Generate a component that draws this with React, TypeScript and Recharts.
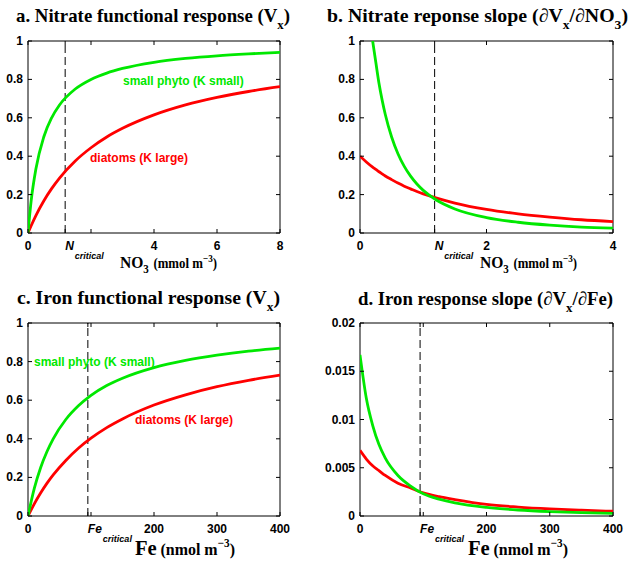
import { LineChart, Line, XAxis, YAxis, ReferenceLine, ReferenceArea } from 'recharts';

const GREEN = '#00e800';
const RED = '#ff0000';
const SANS = '"Liberation Sans", Arial, Helvetica, sans-serif';
const SERIF = '"Liberation Serif", "Times New Roman", serif';

// critical concentrations (where the two slopes cross)
const N_CRIT = 1.18;
const FE_CRIT = 95;

// a. nitrate functional response
const no3X = [0, 0.1, 0.25, 0.5, 0.75, 1, 1.5, 2, 2.5, 3, 4, 5, 6, 7, 8];
const no3Small = [0, 0.167, 0.333, 0.5, 0.6, 0.667, 0.75, 0.8, 0.833, 0.857, 0.889, 0.909, 0.923, 0.933, 0.941];
const no3Diatom = [0, 0.038, 0.091, 0.167, 0.231, 0.286, 0.375, 0.444, 0.5, 0.545, 0.615, 0.667, 0.706, 0.737, 0.762];

// b. nitrate response slope
const no3SlopeX = [0, 0.1, 0.2, 0.25, 0.3, 0.35, 0.4, 0.5, 0.6, 0.7, 0.8, 0.9, 1, 1.2, 1.5, 2, 2.5, 3, 3.5, 4];
const no3SlopeSmall = [null, null, 1.0, 0.889, 0.78, 0.692, 0.617, 0.5, 0.413, 0.347, 0.296, 0.255, 0.222, 0.173, 0.125, 0.08, 0.056, 0.041, 0.031, 0.025];
const no3SlopeDiatom = [0.4, 0.37, 0.343, 0.331, 0.319, 0.308, 0.297, 0.278, 0.26, 0.244, 0.23, 0.216, 0.204, 0.183, 0.156, 0.123, 0.1, 0.083, 0.069, 0.059];

// c. iron functional response
const feX = [0, 10, 20, 30, 40, 60, 80, 100, 125, 150, 200, 250, 300, 350, 400];
const feSmall = [0, 0.143, 0.25, 0.333, 0.4, 0.5, 0.571, 0.625, 0.676, 0.714, 0.769, 0.806, 0.833, 0.854, 0.87];
const feDiatom = [0, 0.063, 0.119, 0.169, 0.213, 0.288, 0.351, 0.403, 0.458, 0.503, 0.575, 0.628, 0.67, 0.703, 0.73];

// d. iron response slope
const feSlopeSmall = [0.0167, 0.0122, 0.0094, 0.0074, 0.006, 0.0042, 0.0031, 0.0023, 0.00175, 0.00136, 0.00089, 0.00062, 0.00046, 0.00036, 0.00028];
const feSlopeDiatom = [0.0068, 0.0059, 0.0052, 0.0047, 0.0042, 0.0034, 0.0029, 0.0024, 0.002, 0.0017, 0.0012, 0.00093, 0.00074, 0.0006, 0.00049];

const unitTicks = [0, 0.2, 0.4, 0.6, 0.8, 1];
const feSlopeTicks = [0, 0.005, 0.01, 0.015, 0.02];

type Row = { x: number; small: number | null; diatom: number };
const zip = (xs: number[], a: (number | null)[], b: number[]): Row[] =>
  xs.map((x, i) => ({ x, small: a[i], diatom: b[i] }));

interface PanelProps {
  left: number; top: number; width: number; height: number;
  plotLeft: number; plotTop: number; plotRight: number; plotBottom: number;
  data: Row[]; xMax: number; yMax: number;
  xTicks: number[]; xLabels: Record<string, string>;
  yTicks: number[]; crit: number; critName: string;
}

function Panel(p: PanelProps) {
  const plotH = p.plotBottom - p.plotTop;
  const plotW = p.plotRight - p.plotLeft;

  const xTick = (t: any) => {
    const v = t.payload.value;
    return (
      <g>
        <line x1={t.x} x2={t.x} y1={t.y} y2={t.y - 4} stroke="#000" />
        <line x1={t.x} x2={t.x} y1={t.y - plotH} y2={t.y - plotH + 4} stroke="#000" />
        {v === p.crit ? (
          <text x={t.x} y={t.y + 17} fontFamily={SANS} fontWeight="bold" fontStyle="italic" fontSize={12} fill="#000">
            {p.critName}
            <tspan fontSize={9} dx={1} dy={9}>critical</tspan>
          </text>
        ) : (
          <text x={t.x} y={t.y + 17} textAnchor="middle" fontFamily={SANS} fontWeight="bold" fontSize={12} fill="#000">
            {p.xLabels[String(v)] ?? String(v)}
          </text>
        )}
      </g>
    );
  };

  const yTick = (t: any) => (
    <g>
      <line x1={t.x} x2={t.x + 4} y1={t.y} y2={t.y} stroke="#000" />
      <line x1={t.x + plotW} x2={t.x + plotW - 4} y1={t.y} y2={t.y} stroke="#000" />
      <text x={t.x - 5} y={t.y + 4} textAnchor="end" fontFamily={SANS} fontWeight="bold" fontSize={12} fill="#000">
        {String(t.payload.value)}
      </text>
    </g>
  );

  return (
    <div style={{ position: 'absolute', left: p.left, top: p.top }}>
      <LineChart
        width={p.width}
        height={p.height}
        data={p.data}
        margin={{ top: p.plotTop, right: p.width - p.plotRight, bottom: 0, left: 0 }}
      >
        <XAxis dataKey="x" type="number" domain={[0, p.xMax]} ticks={p.xTicks} interval={0} tick={xTick}
          tickLine={false} axisLine={false} tickSize={0} tickMargin={0} height={p.height - p.plotBottom} allowDataOverflow />
        <YAxis type="number" domain={[0, p.yMax]} ticks={p.yTicks} interval={0} tick={yTick}
          tickLine={false} axisLine={false} tickSize={0} tickMargin={0} width={p.plotLeft} allowDataOverflow />
        <ReferenceArea x1={0} x2={p.xMax} y1={0} y2={p.yMax} fill="none" fillOpacity={0} stroke="#000" strokeWidth={1} />
        <ReferenceLine x={p.crit} stroke="#000" strokeDasharray="8 4" />
        <Line dataKey="diatom" type="monotone" stroke={RED} strokeWidth={2.8} dot={false} isAnimationActive={false} />
        <Line dataKey="small" type="monotone" stroke={GREEN} strokeWidth={2.8} dot={false} isAnimationActive={false} />
      </LineChart>
    </div>
  );
}

const serif = { fontFamily: SERIF, fontWeight: 'bold' as const, fill: '#000' };
const fit = (w: number) => ({ textLength: w, lengthAdjust: 'spacingAndGlyphs' as const });

export default function App() {
  return (
    <div style={{ position: 'absolute', left: 0, top: 0, width: 630, height: 562, background: '#fff' }}>
      <Panel left={0} top={0} width={315} height={280} plotLeft={28} plotTop={41} plotRight={280} plotBottom={233}
        data={zip(no3X, no3Small, no3Diatom)} xMax={8} yMax={1}
        xTicks={[0, N_CRIT, 2, 4, 6, 8]} xLabels={{ '2': '' }} yTicks={unitTicks} crit={N_CRIT} critName="N" />
      <Panel left={315} top={0} width={315} height={280} plotLeft={45} plotTop={41} plotRight={298} plotBottom={233}
        data={zip(no3SlopeX, no3SlopeSmall, no3SlopeDiatom)} xMax={4} yMax={1}
        xTicks={[0, N_CRIT, 2, 4]} xLabels={{}} yTicks={unitTicks} crit={N_CRIT} critName="N" />
      <Panel left={0} top={280} width={315} height={282} plotLeft={28} plotTop={43} plotRight={280} plotBottom={236}
        data={zip(feX, feSmall, feDiatom)} xMax={400} yMax={1}
        xTicks={[0, FE_CRIT, 100, 200, 300, 400]} xLabels={{ '100': '' }} yTicks={unitTicks} crit={FE_CRIT} critName="Fe" />
      <Panel left={315} top={280} width={315} height={282} plotLeft={45} plotTop={43} plotRight={298} plotBottom={236}
        data={zip(feX, feSlopeSmall, feSlopeDiatom)} xMax={400} yMax={0.02}
        xTicks={[0, FE_CRIT, 100, 200, 300, 400]} xLabels={{ '100': '' }} yTicks={feSlopeTicks} crit={FE_CRIT} critName="Fe" />

      <svg width={630} height={562} style={{ position: 'absolute', left: 0, top: 0, pointerEvents: 'none' }}>
        {/* panel titles */}
        <text x={16} y={22} fontSize={19} {...serif} {...fit(274)}>
          a. Nitrate functional response (V<tspan fontSize={13} dy={7}>x</tspan><tspan dy={-7}>)</tspan>
        </text>
        <text x={327} y={22} fontSize={19} {...serif} {...fit(301)}>
          b. Nitrate reponse slope (∂V<tspan fontSize={13} dy={7}>x</tspan><tspan dy={-7}>/∂NO</tspan><tspan fontSize={13} dy={7}>3</tspan><tspan dy={-7}>)</tspan>
        </text>
        <text x={17} y={304} fontSize={19} {...serif} {...fit(263)}>
          c. Iron functional response (V<tspan fontSize={13} dy={7}>x</tspan><tspan dy={-7}>)</tspan>
        </text>
        <text x={358} y={305} fontSize={19} {...serif} {...fit(255)}>
          d. Iron response slope (∂V<tspan fontSize={13} dy={7}>x</tspan><tspan dy={-7}>/∂Fe)</tspan>
        </text>

        {/* axis labels */}
        <text x={120} y={268} fontSize={17} {...serif} {...fit(97)}>
          NO<tspan fontSize={12} dy={5}>3</tspan><tspan fontSize={14} dx={5} dy={-5}>(mmol m</tspan><tspan fontSize={10} dy={-6}>−3</tspan><tspan fontSize={14} dy={6}>)</tspan>
        </text>
        <text x={480} y={268} fontSize={17} {...serif} {...fit(97)}>
          NO<tspan fontSize={12} dy={5}>3</tspan><tspan fontSize={14} dx={5} dy={-5}>(mmol m</tspan><tspan fontSize={10} dy={-6}>−3</tspan><tspan fontSize={14} dy={6}>)</tspan>
        </text>
        <text x={135} y={555} fontSize={22} {...serif} {...fit(100)}>
          Fe<tspan fontSize={17} dx={4}>(nmol m</tspan><tspan fontSize={12} dy={-8}>−3</tspan><tspan fontSize={17} dy={8}>)</tspan>
        </text>
        <text x={468} y={555} fontSize={22} {...serif} {...fit(100)}>
          Fe<tspan fontSize={17} dx={4}>(nmol m</tspan><tspan fontSize={12} dy={-8}>−3</tspan><tspan fontSize={17} dy={8}>)</tspan>
        </text>

        {/* curve labels */}
        <text x={123} y={85} fontFamily={SANS} fontWeight="bold" fontSize={12} fill={GREEN}>small phyto (K small)</text>
        <text x={90} y={162} fontFamily={SANS} fontWeight="bold" fontSize={12} fill={RED}>diatoms (K large)</text>
        <text x={34} y={366} fontFamily={SANS} fontWeight="bold" fontSize={12} fill={GREEN}>small phyto (K small)</text>
        <text x={135} y={424} fontFamily={SANS} fontWeight="bold" fontSize={12} fill={RED}>diatoms (K large)</text>
      </svg>
    </div>
  );
}
